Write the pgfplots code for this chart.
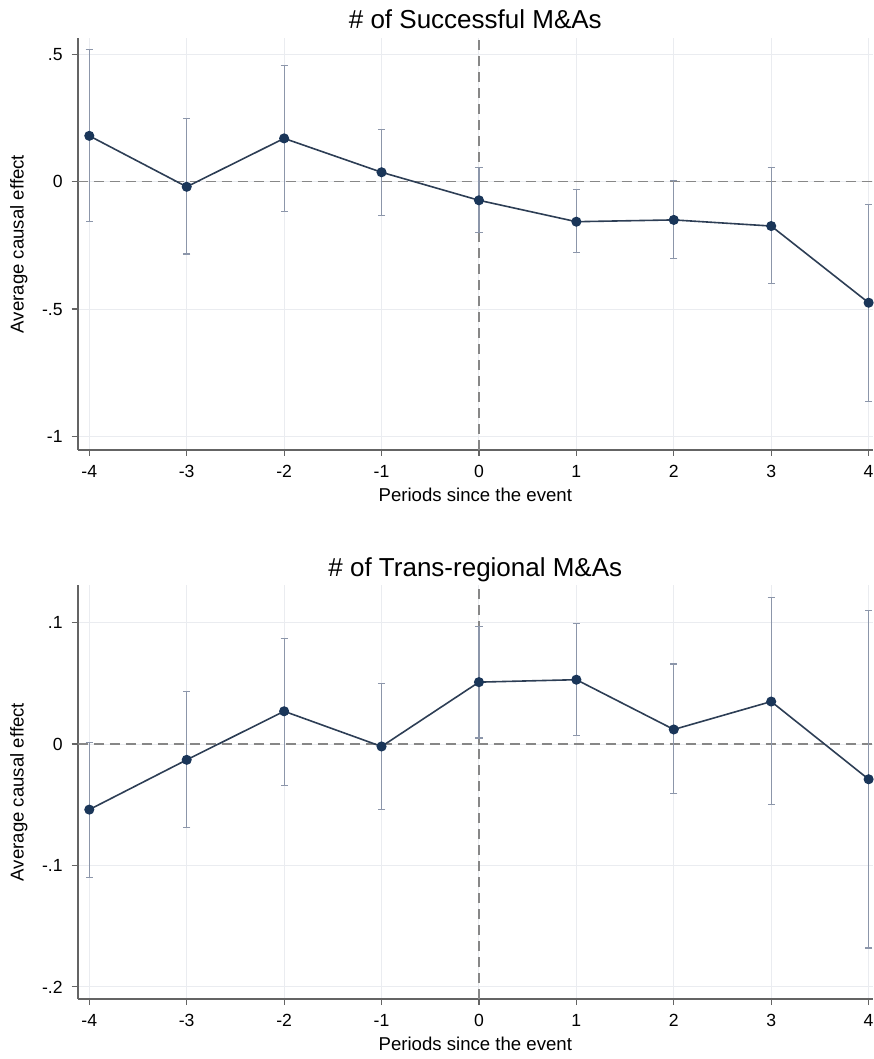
\documentclass[border=0pt]{standalone}
\usepackage{fontspec}
\setmainfont{Liberation Sans}
\usepackage{pgfplots}
\usepackage{pgfplotstable}
\pgfplotsset{compat=1.18}

\definecolor{lineblue}{RGB}{45,62,85}
\definecolor{markerblue}{RGB}{26,54,89}
\definecolor{cigray}{RGB}{140,150,170}
\definecolor{axisgray}{RGB}{100,100,100}
\definecolor{dashgray}{RGB}{135,135,135}
\definecolor{gridgray}{RGB}{234,236,240}

\pgfplotstableread{
x   y       lo      hi
-4  0.180  -0.157   0.520
-3 -0.020  -0.284   0.249
-2  0.170  -0.118   0.455
-1  0.037  -0.133   0.206
0  -0.073  -0.200   0.055
1  -0.157  -0.277  -0.030
2  -0.150  -0.300   0.004
3  -0.174  -0.400   0.055
4  -0.475  -0.863  -0.088
}\datatop

\pgfplotstableread{
x   y       lo      hi
-4 -0.054  -0.110   0.001
-3 -0.013  -0.069   0.043
-2  0.027  -0.034   0.087
-1 -0.002  -0.054   0.050
0   0.051   0.005   0.097
1   0.053   0.007   0.099
2   0.012  -0.041   0.066
3   0.035  -0.050   0.121
4  -0.029  -0.168   0.110
}\databot

\pgfplotsset{
  mystyle/.style={
    scale only axis,
    width=397.6pt,
    xmin=-4.119, xmax=4.044,
    axis x line*=bottom,
    axis y line*=left,
    axis line style={axisgray, line width=0.9pt},
    xtick={-4,-3,-2,-1,0,1,2,3,4},
    tick align=outside,
    major tick length=3pt,
    tick style={axisgray, line width=0.6pt},
    grid=major,
    grid style={gridgray, line width=0.5pt},
    tick label style={font=\fontsize{8.8}{10}\selectfont, black},
    /pgf/number format/assume math mode=true,
    label style={font=\fontsize{9.3}{11}\selectfont, black},
    title style={font=\fontsize{13}{15}\selectfont, black},
    xlabel={Periods since the event},
    ylabel={Average causal effect},
    xlabel style={at={(axis description cs:0.5,0)}, anchor=center, yshift=-22.5pt},
    ylabel style={at={([xshift=-29.5pt]axis description cs:0,0.5)}, anchor=center},
    clip=false,
    xticklabel style={yshift=-1pt},
    yticklabel style={xshift=-1pt},
  },
  cistyle/.style={
    only marks, mark=none,
    error bars/.cd,
      y dir=both, y explicit,
      error bar style={cigray, line width=0.6pt},
      error mark options={rotate=90, cigray, mark size=1.8pt, line width=0.6pt},
  },
  ptstyle/.style={
    lineblue, line width=0.8pt,
    mark=*, mark size=2.1pt,
    mark options={fill=markerblue, draw=markerblue, solid},
  },
}

\begin{document}
\begin{tikzpicture}
\begin{axis}[mystyle,
  at={(0,0)}, anchor=south west,
  height=206pt,
  ymin=-1.053, ymax=0.564,
  ytick={-1,-0.5,0,0.5},
  yticklabels={-1,-.5,0,.5},
  title={\# of Successful M\&As},
  title style={at={(axis description cs:0.5,1)}, anchor=center, yshift=3.5pt},
]
\draw[dashgray, line width=0.7pt, dash pattern=on 5pt off 3pt]
  (axis cs:-4.119,0) -- (axis cs:4.044,0);
\draw[dashgray, line width=0.7pt, dash pattern=on 5pt off 3pt]
  (axis cs:0,-1.053) -- (axis cs:0,0.564);
\addplot[cistyle] table[x=x, y=y,
  y error plus expr=\thisrow{hi}-\thisrow{y},
  y error minus expr=\thisrow{y}-\thisrow{lo}] {\datatop};
\addplot[ptstyle] table[x=x, y=y] {\datatop};
\end{axis}

\begin{axis}[mystyle,
  at={(0,-274.5pt)}, anchor=south west,
  height=207pt,
  ymin=-0.210, ymax=0.131,
  ytick={-0.2,-0.1,0,0.1},
  yticklabels={-.2,-.1,0,.1},
  title={\# of Trans-regional M\&As},
  title style={at={(axis description cs:0.5,1)}, anchor=center, yshift=1.5pt},
]
\draw[dashgray, line width=0.7pt, dash pattern=on 5pt off 3pt]
  (axis cs:-4.119,0) -- (axis cs:4.044,0);
\draw[dashgray, line width=0.7pt, dash pattern=on 5pt off 3pt]
  (axis cs:0,-0.210) -- (axis cs:0,0.131);
\addplot[cistyle] table[x=x, y=y,
  y error plus expr=\thisrow{hi}-\thisrow{y},
  y error minus expr=\thisrow{y}-\thisrow{lo}] {\databot};
\addplot[ptstyle] table[x=x, y=y] {\databot};
\end{axis}

\pgfresetboundingbox
\useasboundingbox (-38.85pt,225pt) rectangle (397.65pt,-304.5pt);
\end{tikzpicture}
\end{document}
